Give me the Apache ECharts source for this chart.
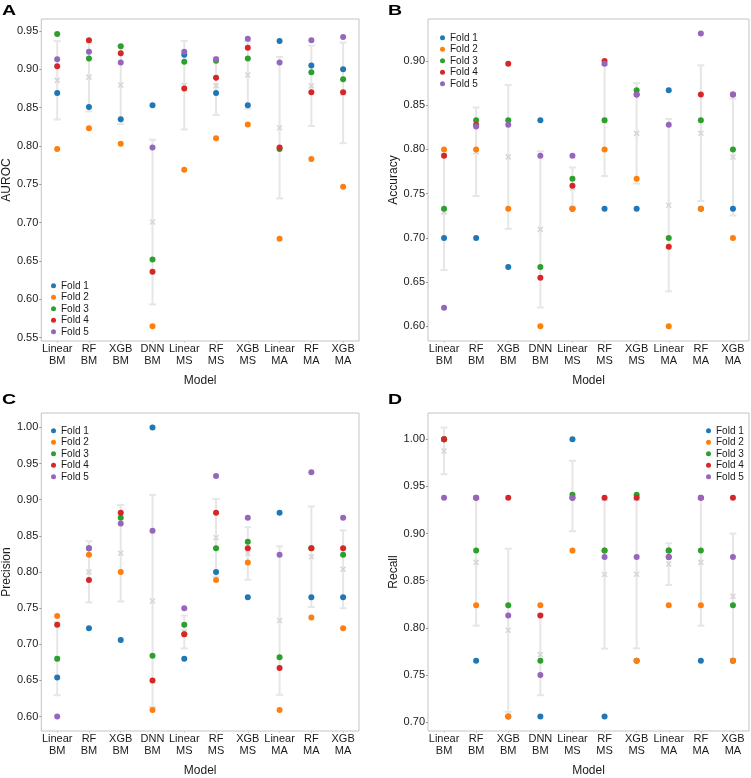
<!DOCTYPE html>
<html>
<head>
<meta charset="utf-8">
<script src="https://cdn.jsdelivr.net/npm/echarts@6/dist/echarts.min.js"></script>
<style>
  html, body { margin: 0; padding: 0; background: #fff; }
  #chart-container { width: 751px; height: 778px; }
</style>
</head>
<body>
<div id="chart-container"></div>
<script>
// models on the x axis (same for all four panels)
const models = ['Linear\nBM', 'RF\nBM', 'XGB\nBM', 'DNN\nBM', 'Linear\nMS', 'RF\nMS', 'XGB\nMS', 'Linear\nMA', 'RF\nMA', 'XGB\nMA'];
const foldNames = ['Fold 1', 'Fold 2', 'Fold 3', 'Fold 4', 'Fold 5'];
const foldColors = ['#1f77b4', '#ff7f0e', '#2ca02c', '#d62728', '#9467bd'];

// one row per fold, one value per model
const aurocFolds = [
  [0.869, 0.851, 0.835, 0.853, 0.919, 0.869, 0.853, 0.937, 0.905, 0.900],
  [0.796, 0.823, 0.803, 0.565, 0.769, 0.810, 0.828, 0.679, 0.783, 0.747],
  [0.946, 0.914, 0.930, 0.652, 0.910, 0.911, 0.914, 0.796, 0.896, 0.887],
  [0.904, 0.938, 0.921, 0.636, 0.875, 0.889, 0.928, 0.798, 0.870, 0.870],
  [0.913, 0.923, 0.909, 0.798, 0.923, 0.913, 0.940, 0.909, 0.938, 0.942]
];
const accuracyFolds = [
  [0.700, 0.700, 0.667, 0.833, 0.733, 0.733, 0.733, 0.867, 0.733, 0.733],
  [0.800, 0.800, 0.733, 0.600, 0.733, 0.800, 0.767, 0.600, 0.733, 0.700],
  [0.733, 0.833, 0.833, 0.667, 0.767, 0.833, 0.867, 0.700, 0.833, 0.800],
  [0.793, 0.828, 0.897, 0.655, 0.759, 0.900, 0.862, 0.690, 0.862, 0.862],
  [0.621, 0.826, 0.828, 0.793, 0.793, 0.897, 0.862, 0.828, 0.931, 0.862]
];
const precisionFolds = [
  [0.654, 0.722, 0.706, 1.000, 0.680, 0.800, 0.765, 0.882, 0.765, 0.765],
  [0.739, 0.824, 0.800, 0.609, 0.714, 0.789, 0.813, 0.609, 0.737, 0.722],
  [0.680, 0.833, 0.875, 0.684, 0.727, 0.833, 0.842, 0.682, 0.833, 0.824],
  [0.727, 0.789, 0.882, 0.650, 0.714, 0.882, 0.833, 0.667, 0.833, 0.833],
  [0.600, 0.833, 0.867, 0.857, 0.750, 0.933, 0.875, 0.824, 0.938, 0.875]
];
const recallFolds = [
  [1.000, 0.765, 0.706, 0.706, 1.000, 0.706, 0.765, 0.882, 0.765, 0.765],
  [1.000, 0.824, 0.706, 0.824, 0.882, 0.882, 0.765, 0.824, 0.824, 0.765],
  [1.000, 0.882, 0.824, 0.765, 0.941, 0.882, 0.941, 0.882, 0.882, 0.824],
  [1.000, 0.938, 0.938, 0.813, 0.938, 0.938, 0.938, 0.875, 0.938, 0.938],
  [0.938, 0.938, 0.813, 0.750, 0.938, 0.875, 0.875, 0.875, 0.938, 0.875]
];

// tick labels
const aurocTicks = [0.55, 0.60, 0.65, 0.70, 0.75, 0.80, 0.85, 0.90, 0.95];
const accuracyTicks = [0.60, 0.65, 0.70, 0.75, 0.80, 0.85, 0.90];
const precisionTicks = [0.60, 0.65, 0.70, 0.75, 0.80, 0.85, 0.90, 0.95, 1.00];
const recallTicks = [0.70, 0.75, 0.80, 0.85, 0.90, 0.95, 1.00];

const FONT = '"Liberation Sans", Arial, sans-serif';

const panels = [
  { label: 'A', name: 'AUROC', folds: aurocFolds, ticks: aurocTicks, min: 0.5457, max: 0.9656,
    grid: { left: 38, top: 19, width: 321, height: 322 }, legend: { left: 51, top: 280 }, lx: 2, ly: 3 },
  { label: 'B', name: 'Accuracy', folds: accuracyFolds, ticks: accuracyTicks, min: 0.5834, max: 0.9475,
    grid: { left: 428, top: 19, width: 321, height: 322 }, legend: { left: 440, top: 32 }, lx: 388, ly: 3 },
  { label: 'C', name: 'Precision', folds: precisionFolds, ticks: precisionTicks, min: 0.58, max: 1.02,
    grid: { left: 38, top: 413, width: 321, height: 321 }, legend: { left: 51, top: 425 }, lx: 2, ly: 392 },
  { label: 'D', name: 'Recall', folds: recallFolds, ticks: recallTicks, min: 0.6906, max: 1.0278,
    grid: { left: 428, top: 413, width: 321, height: 321 }, legend: { left: 706, top: 425 }, lx: 388, ly: 392 }
];

// mean and (population) std over the folds, per model
function summary(folds) {
  return models.map((_, i) => {
    const vals = folds.map(r => r[i]);
    const m = vals.reduce((a, b) => a + b, 0) / vals.length;
    const sd = Math.sqrt(vals.reduce((a, b) => a + (b - m) * (b - m), 0) / vals.length);
    return [i, m, sd];
  });
}

function renderErrorBar(params, api) {
  const x = api.value(0), m = api.value(1), s = api.value(2);
  const top = api.coord([x, m + s]);
  const bot = api.coord([x, m - s]);
  const c = api.coord([x, m]);
  const barStyle = { stroke: '#e6e6e6', lineWidth: 2 };
  const xStyle = { stroke: '#d6d6d6', lineWidth: 1.5 };
  const cap = 3.5, k = 2.5;
  return {
    type: 'group',
    children: [
      { type: 'line', shape: { x1: top[0], y1: top[1], x2: bot[0], y2: bot[1] }, style: barStyle },
      { type: 'line', shape: { x1: top[0] - cap, y1: top[1], x2: top[0] + cap, y2: top[1] }, style: barStyle },
      { type: 'line', shape: { x1: bot[0] - cap, y1: bot[1], x2: bot[0] + cap, y2: bot[1] }, style: barStyle },
      { type: 'line', shape: { x1: c[0] - k, y1: c[1] - k, x2: c[0] + k, y2: c[1] + k }, style: xStyle },
      { type: 'line', shape: { x1: c[0] - k, y1: c[1] + k, x2: c[0] + k, y2: c[1] - k }, style: xStyle }
    ]
  };
}

const myChart = echarts.init(document.getElementById('chart-container'), null, { renderer: 'canvas' });

const grids = [], xAxes = [], yAxes = [], legends = [], series = [], graphics = [];

panels.forEach((p, pi) => {
  grids.push(Object.assign({ show: true, borderColor: '#c4c4c4', borderWidth: 1, backgroundColor: 'transparent' }, p.grid));
  xAxes.push({
    type: 'category', gridIndex: pi, data: models, boundaryGap: true,
    axisLine: { show: false },
    axisTick: { show: true, alignWithLabel: true, length: 2, lineStyle: { color: '#d0d0d0' } },
    axisLabel: { interval: 0, fontSize: 11, lineHeight: 12.3, margin: 2, color: '#1a1a1a', fontFamily: FONT },
    name: 'Model', nameLocation: 'middle', nameGap: 34,
    nameTextStyle: { fontSize: 12, color: '#1a1a1a', fontFamily: FONT }
  });
  yAxes.push({
    type: 'value', gridIndex: pi, min: p.min, max: p.max,
    splitLine: { show: false },
    axisLine: { show: false },
    axisTick: { show: true, length: 2, customValues: p.ticks, lineStyle: { color: '#999' } },
    axisLabel: { customValues: p.ticks, formatter: v => v.toFixed(2), fontSize: 11, margin: 3, color: '#1a1a1a', fontFamily: FONT },
    name: p.name, nameLocation: 'middle', nameGap: pi % 2 ? 28 : 26, nameRotate: 90,
    nameTextStyle: { fontSize: 12, color: '#1a1a1a', fontFamily: FONT }
  });
  legends.push({
    data: foldNames, orient: 'vertical', left: p.legend.left, top: p.legend.top,
    icon: 'circle', itemWidth: 5, itemHeight: 5, itemGap: 0, padding: 0,
    textStyle: { fontSize: 10, lineHeight: 11.5, color: '#1a1a1a', fontFamily: FONT }
  });
  series.push({
    type: 'custom', xAxisIndex: pi, yAxisIndex: pi, z: 1, silent: true,
    renderItem: renderErrorBar, data: summary(p.folds), encode: { x: 0, y: 1 }
  });
  p.folds.forEach((vals, fi) => {
    series.push({
      name: foldNames[fi], type: 'scatter', xAxisIndex: pi, yAxisIndex: pi, z: 3,
      symbolSize: 6, itemStyle: { color: foldColors[fi], opacity: 1 },
      data: vals.map((v, i) => [i, v])
    });
  });
  graphics.push({
    type: 'text', x: p.lx, y: p.ly, scaleX: 1.3,
    style: { text: p.label, font: 'bold 15px ' + FONT, fill: '#000', verticalAlign: 'top' }
  });
});

myChart.setOption({
  animation: false,
  grid: grids,
  xAxis: xAxes,
  yAxis: yAxes,
  legend: legends,
  graphic: graphics,
  series: series
});
</script>
</body>
</html>
